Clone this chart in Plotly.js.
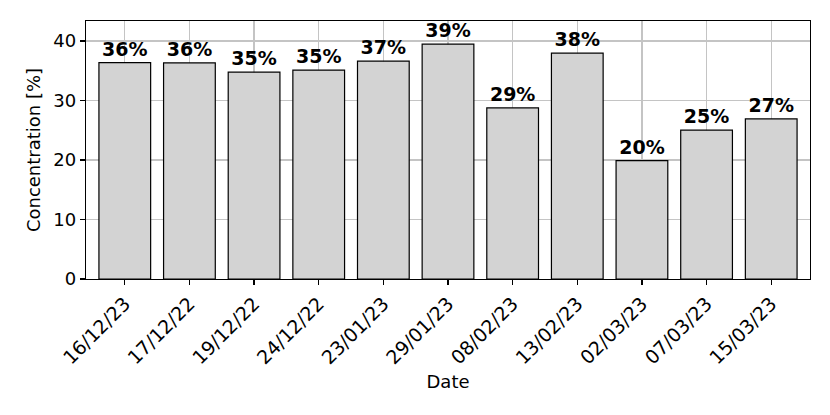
<!DOCTYPE html>
<html>
<head>
<meta charset="utf-8">
<script src="https://cdn.plot.ly/plotly-3.0.1.min.js"></script>
<style>
  html, body { margin: 0; padding: 0; background: #fff; }
  #graphics { width: 830px; height: 415px; }
</style>
</head>
<body>
<div id="graphics"></div>
<script>
var dates = ['16/12/23', '17/12/22', '19/12/22', '24/12/22', '23/01/23', '29/01/23',
             '08/02/23', '13/02/23', '02/03/23', '07/03/23', '15/03/23'];
var concentration = [36.35, 36.3, 34.75, 35.1, 36.6, 39.45, 28.75, 37.95, 19.9, 25.0, 26.9];

var labels = [];
for (var i = 0; i < concentration.length; i++) {
  labels.push(Math.round(concentration[i]) + '%');
}

var trace = {
  x: dates,
  y: concentration,
  type: 'bar',
  width: 0.8,
  marker: {
    color: '#d3d3d3',
    line: { color: '#000000', width: 1.2 }
  },
  text: labels,
  textposition: 'outside',
  textfont: { family: 'DejaVu Sans', size: 19, color: '#000000', weight: 'bold' },
  constraintext: 'none',
  cliponaxis: false,
  hoverinfo: 'x+y'
};

var layout = {
  width: 830,
  height: 415,
  margin: { l: 86, r: 20, t: 21, b: 136, pad: 0 },
  paper_bgcolor: '#ffffff',
  plot_bgcolor: '#ffffff',
  font: { family: 'DejaVu Sans', size: 18, color: '#000000' },
  showlegend: false,
  bargap: 0.2,
  xaxis: {
    type: 'category',
    range: [-0.6, 10.6],
    tickangle: -45,
    ticks: 'outside',
    ticklen: 5,
    tickwidth: 1.2,
    tickcolor: '#000000',
    showgrid: true,
    gridcolor: '#c4c4c4',
    gridwidth: 1.2,
    showline: true,
    mirror: true,
    linecolor: '#000000',
    linewidth: 1.2,
    tickfont: { size: 19 },
    title: { text: 'Date', font: { size: 18 }, standoff: 8 }
  },
  yaxis: {
    range: [0, 43.35],
    dtick: 10,
    tick0: 0,
    ticks: 'outside',
    ticklen: 5,
    tickwidth: 1.2,
    tickcolor: '#000000',
    showgrid: true,
    gridcolor: '#c4c4c4',
    gridwidth: 1.2,
    zeroline: false,
    showline: true,
    mirror: true,
    linecolor: '#000000',
    linewidth: 1.2,
    tickfont: { size: 18 },
    title: { text: 'Concentration [%]', font: { size: 18 }, standoff: 8 }
  }
};

Plotly.newPlot('graphics', [trace], layout, { displayModeBar: false, staticPlot: true });
</script>
</body>
</html>
